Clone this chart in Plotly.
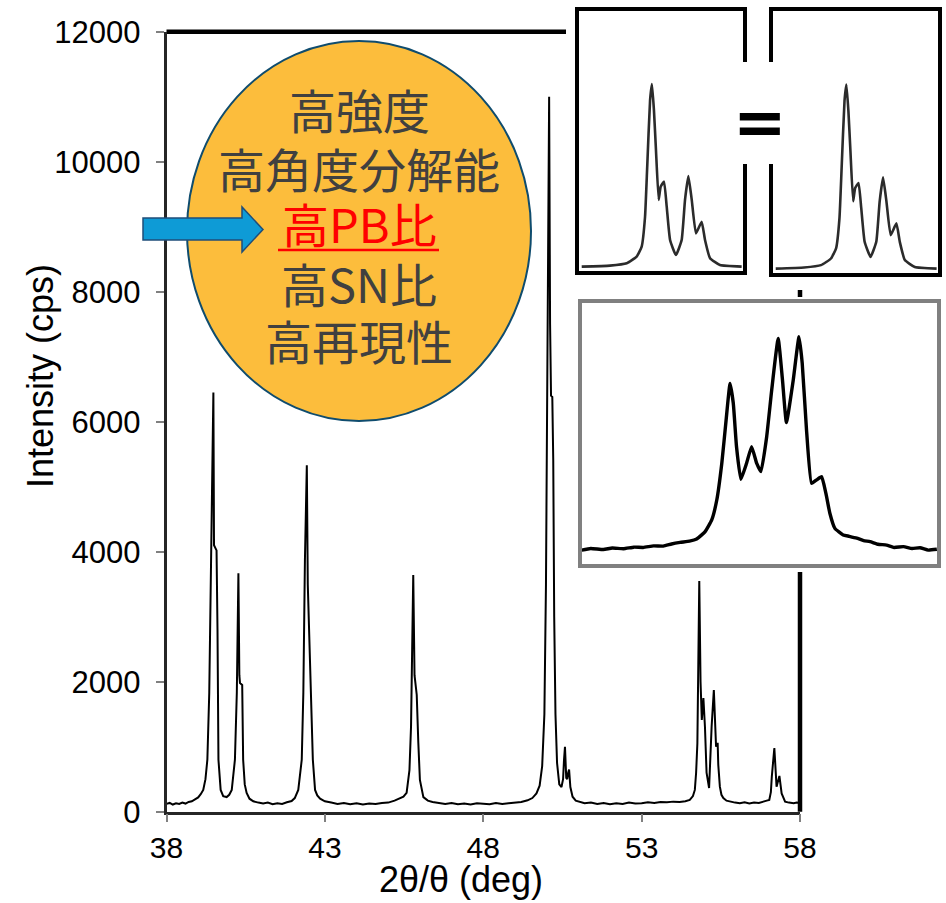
import plotly.graph_objects as go

W, H = 946, 903

# ---------------- data ----------------
two_theta = [
    38.00, 38.10, 38.20, 38.30, 38.40, 38.50, 38.60, 38.70, 38.80, 38.90,
    39.00, 39.08, 39.16, 39.23, 39.29, 39.35, 39.40, 39.48, 39.50, 39.55,
    39.58, 39.61, 39.64, 39.71, 39.79, 39.90, 39.98, 40.06, 40.16, 40.22,
    40.27, 40.30, 40.32, 40.39, 40.42, 40.47, 40.53, 40.62, 40.74, 40.90,
    41.05, 41.20, 41.35, 41.50, 41.65, 41.80, 41.95, 42.05, 42.16, 42.27,
    42.32, 42.37, 42.43, 42.46, 42.49, 42.52, 42.56, 42.62, 42.69, 42.76,
    42.85, 43.00, 43.20, 43.40, 43.60, 43.80, 44.00, 44.20, 44.40, 44.60,
    44.80, 45.00, 45.20, 45.35, 45.48, 45.58, 45.67, 45.72, 45.76, 45.79,
    45.83, 45.87, 45.90, 45.95, 46.00, 46.11, 46.25, 46.40, 46.60, 46.80,
    47.00, 47.20, 47.40, 47.60, 47.80, 48.00, 48.20, 48.40, 48.60, 48.80,
    49.00, 49.20, 49.40, 49.55, 49.68, 49.78, 49.86, 49.93, 49.98, 50.02,
    50.05, 50.08, 50.11, 50.14, 50.18, 50.21, 50.24, 50.28, 50.33, 50.40,
    50.47, 50.52, 50.55, 50.58, 50.62, 50.65, 50.68, 50.71, 50.75, 50.82,
    50.92, 51.05, 51.20, 51.40, 51.60, 51.80, 52.00, 52.20, 52.40, 52.60,
    52.80, 53.00, 53.20, 53.40, 53.60, 53.80, 54.00, 54.20, 54.38, 54.52,
    54.62, 54.68, 54.72, 54.76, 54.79, 54.82, 54.86, 54.90, 54.95, 55.00,
    55.05, 55.13, 55.21, 55.28, 55.35, 55.40, 55.42, 55.47, 55.52, 55.58,
    55.68, 55.79, 55.95, 56.10, 56.25, 56.40, 56.55, 56.70, 56.85, 56.95,
    57.03, 57.08, 57.11, 57.19, 57.26, 57.35, 57.42, 57.53, 57.65, 57.80,
    57.90, 58.00,
]
intensity_cps = [
    120, 135, 110, 128, 118, 140, 125, 150, 160, 185,
    220, 270, 335, 500, 800, 1830, 3870, 6450, 4100, 4050,
    4020, 2800, 800, 335, 240, 225, 260, 335, 800, 1830,
    3670, 2100, 1980, 1950, 800, 420, 290, 200, 160, 140,
    125, 140, 115, 130, 120, 145, 165, 210, 335, 800,
    1830, 3870, 5330, 3500, 2980, 2700, 1830, 800, 335, 250,
    200, 160, 140, 120, 135, 115, 130, 110, 125, 120,
    135, 140, 170, 200, 230, 290, 640, 1310, 2850, 3640,
    2100, 1950, 1800, 1060, 490, 225, 170, 150, 130, 120,
    135, 115, 125, 110, 130, 120, 115, 135, 120, 130,
    140, 150, 175, 210, 280, 400, 700, 1500, 3500, 7000,
    9500, 11000, 7500, 6400, 6380, 5400, 3000, 1500, 750, 420,
    380, 500, 800, 1000, 520, 500, 600, 650, 380, 230,
    170, 150, 130, 140, 120, 135, 115, 130, 120, 140,
    125, 130, 145, 135, 150, 145, 155, 150, 160, 180,
    240, 335, 600, 1050, 2330, 3550, 2000, 1410, 1750, 1300,
    600, 365, 1310, 1870, 1000, 1060, 720, 385, 260, 210,
    170, 155, 140, 130, 145, 125, 140, 135, 150, 170,
    180, 300, 540, 980, 385, 550, 280, 155, 140, 130,
    140, 135,
]

x_tick_vals = [38, 43, 48, 53, 58]
y_tick_vals = [0, 2000, 4000, 6000, 8000, 10000, 12000]

# small "equal" insets (relative units, 0-100 of each inset box)
inset_peak_x = [2.8, 19.6, 29.6, 35.5, 38.5, 40.5, 41.8, 43.5, 44.6, 45.8,
                47.0, 48.6, 49.8, 51.8, 53.4, 55.4, 58.9, 62.3, 64.3, 66.3,
                68.3, 70.8, 74.2, 76.2, 79.2, 85.1, 98.0]
inset_peak_y = [2.4, 2.8, 3.7, 6.2, 10.0, 21.3, 40.3, 65.5, 71.6, 61.7,
                46.6, 27.7, 32.7, 34.6, 25.1, 12.5, 6.8, 12.5, 27.7, 36.7,
                27.7, 15.0, 19.4, 12.5, 5.6, 3.0, 2.4]

# enlarged multi-peak inset (relative units)
inset_zoom_x = [0.5, 3.0, 6.5, 9.0, 12.1, 15.0, 17.6, 20.5, 23.2, 25.5,
                27.9, 30.5, 32.5, 34.8, 36.7, 38.1, 39.5, 40.7, 41.8, 42.7,
                43.6, 44.8, 46.4, 47.8, 49.2, 50.4, 52.0, 53.4, 55.2, 56.4,
                57.5, 59.4, 61.0, 61.9, 63.1, 64.5, 65.9, 67.3, 68.5, 69.6,
                71.0, 73.3, 75.0, 77.1, 79.0, 80.8, 83.0, 85.4, 87.5, 90.1,
                92.5, 94.7, 97.0, 99.4]
inset_zoom_y = [6.0, 6.6, 6.2, 6.8, 6.5, 7.1, 7.0, 7.6, 7.5, 8.3,
                8.9, 9.4, 10.2, 12.9, 17.4, 24.9, 38.8, 55.1, 68.9, 61.4,
                45.0, 32.7, 38.8, 45.0, 38.8, 35.6, 48.8, 66.4, 85.9, 70.2,
                54.1, 70.2, 86.5, 76.5, 51.3, 31.2, 32.5, 33.7, 27.4, 19.9,
                14.2, 11.7, 11.2, 10.5, 9.6, 9.2, 8.2, 7.9, 7.0, 7.3,
                6.6, 6.9, 6.0, 6.3]

bubble_lines = ["高強度", "高角度分解能", "高PB比", "高SN比", "高再現性"]
highlight_line = "高PB比"


# ---------------- helpers (pixel -> paper) ----------------
def fx(px):
    return px / W


def fy(py):
    return 1 - py / H


LATIN = "Liberation Sans, Arial, sans-serif"
CJK = "Noto Sans CJK JP, sans-serif"

PLOT_L, PLOT_R, PLOT_T, PLOT_B = 166.5, 800.0, 31.7, 811.7

fig = go.Figure()

# main pattern
fig.add_trace(go.Scatter(x=two_theta, y=intensity_cps, mode="lines",
                         line=dict(color="black", width=2),
                         xaxis="x", yaxis="y", hoverinfo="skip"))


def inset_axes(inner, outer):
    """inner/outer = (left, top, right, bottom) pixel boxes; inner maps to 0..100."""
    il, it, ir, ib = inner
    ol, ot, orr, ob = outer
    sx = (ir - il) / 100.0
    sy = (ib - it) / 100.0
    xr = [(ol - il) / sx, (orr - il) / sx]
    yr = [(ib - ob) / sy, (ib - ot) / sy]
    dom_x = [fx(ol), fx(orr)]
    dom_y = [fy(ob), fy(ot)]
    return dom_x, dom_y, xr, yr


insets = [
    # inner box, padded (white) box, data, border colour, line colour, line width
    ((577, 9, 745, 273), (566, 0, 762, 290), inset_peak_x, inset_peak_y, "black", "#2b2b2b", 2.6),
    ((771, 9, 940, 275), (758, 0, 946, 290), inset_peak_x, inset_peak_y, "black", "#2b2b2b", 2.6),
    ((580, 301, 939, 566), (572, 297, 946, 572), inset_zoom_x, inset_zoom_y, "#808080", "black", 3.4),
]

layout_axes = {}
shapes = []

# main frame: top and right lines (beneath the insets)
shapes.append(dict(type="line", xref="paper", yref="paper", layer="below",
                   x0=fx(PLOT_L), x1=fx(PLOT_R), y0=fy(PLOT_T), y1=fy(PLOT_T),
                   line=dict(color="black", width=4.5)))
shapes.append(dict(type="line", xref="paper", yref="paper", layer="below",
                   x0=fx(PLOT_R), x1=fx(PLOT_R), y0=fy(PLOT_T), y1=fy(PLOT_B),
                   line=dict(color="black", width=4.5)))

for i, (inner, outer, xs, ys, bcol, lcol, lw) in enumerate(insets, start=2):
    dom_x, dom_y, xr, yr = inset_axes(inner, outer)
    xa, ya = f"x{i}", f"y{i}"
    # white backdrop covering the main chart underneath
    fig.add_trace(go.Scatter(x=[xr[0], xr[1], xr[1], xr[0], xr[0]],
                             y=[yr[0], yr[0], yr[1], yr[1], yr[0]],
                             fill="toself", fillcolor="white", mode="lines",
                             line=dict(width=0, color="white"),
                             xaxis=xa, yaxis=ya, hoverinfo="skip"))
    fig.add_trace(go.Scatter(x=xs, y=ys, mode="lines",
                             line=dict(color=lcol, width=lw, shape="spline", smoothing=0.4),
                             xaxis=xa, yaxis=ya, hoverinfo="skip"))
    common = dict(showgrid=False, zeroline=False, showline=False,
                  showticklabels=False, ticks="", fixedrange=True)
    layout_axes[f"xaxis{i}"] = dict(domain=dom_x, range=xr, anchor=ya, **common)
    layout_axes[f"yaxis{i}"] = dict(domain=dom_y, range=yr, anchor=xa, **common)
    shapes.append(dict(type="rect", xref=xa, yref=ya, layer="above",
                       x0=0, x1=100, y0=0, y1=100,
                       line=dict(color=bcol, width=4), fillcolor="rgba(0,0,0,0)"))

# white gap for the "=" sign between the two small insets
shapes.append(dict(type="rect", xref="paper", yref="paper", layer="above",
                   x0=fx(737), x1=fx(784), y0=fy(164), y1=fy(62),
                   line=dict(width=0), fillcolor="white"))

# orange bubble
shapes.append(dict(type="circle", xref="paper", yref="paper", layer="above",
                   x0=fx(187), x1=fx(531), y0=fy(421), y1=fy(41),
                   fillcolor="#FCBD3C", line=dict(color="#0F4C6E", width=2)))

# blue arrow
arrow_pts = [(143, 218), (242, 218), (242, 207), (263, 229.5), (242, 252), (242, 240), (143, 240)]
path = "M " + " L ".join(f"{fx(a):.5f},{fy(b):.5f}" for a, b in arrow_pts) + " Z"
shapes.append(dict(type="path", xref="paper", yref="paper", layer="above", path=path,
                   fillcolor="#0E9BD6", line=dict(color="#1F4E79", width=1.5)))

# red underline under highlighted line
shapes.append(dict(type="line", xref="paper", yref="paper", layer="above",
                   x0=fx(278), x1=fx(439), y0=fy(250), y1=fy(250),
                   line=dict(color="#FF0000", width=2.5)))

annotations = []
line_centers = [109, 167, 222, 282, 339.5]
for txt, yc in zip(bubble_lines, line_centers):
    col = "#FF0000" if txt == highlight_line else "#404040"
    annotations.append(dict(xref="paper", yref="paper", x=fx(359), y=fy(yc),
                            xanchor="center", yanchor="middle", showarrow=False,
                            text=txt, font=dict(family=CJK, size=47, color=col)))

annotations.append(dict(xref="paper", yref="paper", x=fx(760), y=fy(122),
                        xanchor="center", yanchor="middle", showarrow=False,
                        text="<b>=</b>", font=dict(family="DejaVu Sans", size=64, color="black")))

annotations.append(dict(xref="paper", yref="paper", x=fx(461), y=fy(879),
                        xanchor="center", yanchor="middle", showarrow=False,
                        text="2θ/θ (deg)", font=dict(family=LATIN, size=36, color="black")))
annotations.append(dict(xref="paper", yref="paper", x=fx(40), y=fy(376),
                        xanchor="center", yanchor="middle", showarrow=False, textangle=-90,
                        text="Intensity (cps)", font=dict(family=LATIN, size=36, color="black")))

fig.update_layout(
    width=W, height=H,
    margin=dict(l=0, r=0, t=0, b=0, autoexpand=False),
    paper_bgcolor="white", plot_bgcolor="white",
    showlegend=False,
    xaxis=dict(domain=[fx(PLOT_L), fx(PLOT_R)], range=[38, 58],
               tickvals=x_tick_vals, ticktext=[str(v) for v in x_tick_vals],
               ticks="outside", ticklen=8, tickwidth=1.5, tickcolor="#808080",
               tickfont=dict(family=LATIN, size=30, color="black"),
               ticklabelstandoff=0,
               showline=True, linecolor="#262626", linewidth=2.5,
               showgrid=False, zeroline=False, anchor="y"),
    yaxis=dict(domain=[fy(PLOT_B), fy(PLOT_T)], range=[0, 12000],
               tickvals=y_tick_vals, ticktext=[str(v) for v in y_tick_vals],
               ticks="outside", ticklen=8, tickwidth=1.5, tickcolor="#808080",
               tickfont=dict(family=LATIN, size=31, color="black"),
               ticklabelstandoff=9,
               showline=True, linecolor="#262626", linewidth=2.5,
               showgrid=False, zeroline=False, anchor="x"),
    shapes=shapes,
    annotations=annotations,
    **layout_axes,
)

fig.write_html("out.html", config={"displayModeBar": False},
               post_script="document.body.style.margin='0';document.body.style.overflow='hidden';")
